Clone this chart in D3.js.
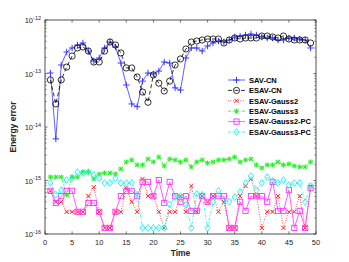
<!DOCTYPE html>
<html lang="en">
  <head>
    <meta charset="UTF-8" />
    <title>Energy error</title>
    <script src="https://cdnjs.cloudflare.com/ajax/libs/d3/7.8.5/d3.min.js"></script>
    <style>
      body {
        margin: 0;
        background: #fff;
        font-family: "Liberation Sans", Arial, sans-serif;
      }
      .tick-label {
        font-size: 7.5px;
        fill: #262626;
      }
      .axis-title {
        font-size: 8.5px;
        font-weight: bold;
        fill: #262626;
      }
      .legend-text {
        font-size: 7.5px;
        font-weight: bold;
        fill: #000;
      }
    </style>
  </head>
  <body>
    <div id="chart"></div>
    <script>
      // time steps 1..49
      const time = d3.range(1, 50);

      const savCN = [
        1.02e-13, 6.0e-15, 1.44e-13, 2.52e-13, 3.0e-13, 3.41e-13, 3.72e-13, 2.63e-13, 1.71e-13, 1.95e-13,
        3.0e-13, 3.88e-13, 3.13e-13, 1.57e-13, 6.1e-14, 2.7e-14, 2.4e-14, 7.2e-14, 1.02e-13, 9.8e-14,
        1.11e-13, 1.64e-13, 1.57e-13, 5.4e-14, 4.9e-14, 1.95e-13, 3.0e-13, 3.0e-13, 2.63e-13, 3.27e-13,
        3.72e-13, 4.05e-13, 3.88e-13, 4.23e-13, 4.81e-13, 5.02e-13, 5.25e-13, 5.47e-13, 5.25e-13, 4.81e-13,
        4.61e-13, 4.61e-13, 4.23e-13, 4.23e-13, 4.61e-13, 4.61e-13, 4.42e-13, 4.23e-13, 3.0e-13
      ];
      const esavCN = [
        7.6e-14, 2.7e-14, 7.6e-14, 1.32e-13, 2.12e-13, 3.0e-13, 3.13e-13, 2.63e-13, 1.64e-13, 1.64e-13,
        2.63e-13, 3.88e-13, 3.41e-13, 2.42e-13, 1.27e-13, 1.27e-13, 8.6e-14, 4.5e-14, 2.9e-14, 9.4e-14,
        6.6e-14, 4.7e-14, 7.2e-14, 1.44e-13, 1.87e-13, 2.87e-13, 3.88e-13, 4.05e-13, 4.23e-13, 4.42e-13,
        4.42e-13, 4.42e-13, 3.72e-13, 4.23e-13, 4.61e-13, 4.42e-13, 4.61e-13, 4.61e-13, 4.61e-13, 5.02e-13,
        5.02e-13, 4.81e-13, 4.61e-13, 5.02e-13, 4.42e-13, 4.23e-13, 4.23e-13, 4.23e-13, 3.72e-13
      ];
      const esavGauss2 = [
        6.4e-16, 4.0e-16, 4.0e-16, 2.6e-16, 2.6e-16, 2.6e-16, 2.6e-16, 5.1e-16, 7.5e-16, 2.6e-16,
        1.3e-16, 1.3e-16, 2.6e-16, 2.6e-16, 7.2e-16, 4.0e-16, 2.6e-16, 1.07e-15, 5.1e-16, 5.1e-16,
        2.6e-16, 1.3e-16, 2.6e-16, 2.6e-16, 5.1e-16, 2.6e-16, 7.9e-16, 2.6e-16, 5.1e-16, 4.0e-16,
        5.1e-16, 2.6e-16, 4.0e-16, 1.3e-16, 1.3e-16, 5.1e-16, 7.9e-16, 1.07e-15, 5.1e-16, 1.3e-16,
        2.6e-16, 2.6e-16, 5.1e-16, 1.3e-16, 2.6e-16, 2.6e-16, 5.1e-16, 1.3e-16, 7.9e-16
      ];
      const esavGauss3 = [
        1.16e-15, 1.16e-15, 1.16e-15, 5.4e-16, 1.16e-15, 1.16e-15, 1.44e-15, 1.44e-15, 1.07e-15, 1.32e-15,
        1.38e-15, 1.38e-15, 1.32e-15, 1.64e-15, 2.22e-15, 2.42e-15, 1.95e-15, 1.95e-15, 2.52e-15, 2.22e-15,
        2.75e-15, 1.87e-15, 2.52e-15, 2.42e-15, 2.22e-15, 2.42e-15, 1.79e-15, 2.22e-15, 2.42e-15, 2.12e-15,
        2.22e-15, 2.42e-15, 2.42e-15, 2.52e-15, 2.75e-15, 2.22e-15, 2.42e-15, 2.52e-15, 1.95e-15, 1.71e-15,
        1.95e-15, 1.95e-15, 2.22e-15, 1.95e-15, 2.03e-15, 1.87e-15, 1.79e-15, 1.79e-15, 2.22e-15
      ];
      const esavGauss2PC = [
        6.4e-16, 3.8e-16, 5.1e-16, 6.4e-16, 6.4e-16, 2.6e-16, 2.6e-16, 3.8e-16, 3.8e-16, 2.6e-16,
        1.3e-16, 1.3e-16, 2.6e-16, 5.1e-16, 6.4e-16, 6.4e-16, 5.1e-16, 9.4e-16, 9.4e-16, 5.1e-16,
        1.02e-15, 3.8e-16, 9.4e-16, 5.1e-16, 4.0e-16, 5.1e-16, 2.7e-16, 2.7e-16, 5.1e-16, 4.0e-16,
        5.1e-16, 5.1e-16, 5.1e-16, 1.3e-16, 1.3e-16, 4.0e-16, 2.7e-16, 5.1e-16, 5.1e-16, 5.1e-16,
        4.0e-16, 9.4e-16, 2.7e-16, 2.7e-16, 6.6e-16, 1.3e-16, 2.7e-16, 1.3e-16, 7.2e-16
      ];
      const esavGauss3PC = [
        9.0e-16, 5.4e-16, 6.6e-16, 1.02e-15, 1.11e-15, 1.44e-15, 1.38e-15, 1.44e-15, 1.27e-15, 1.11e-15,
        9.0e-16, 9.0e-16, 1.11e-15, 9.0e-16, 9.0e-16, 9.0e-16, 5.4e-16, 1.3e-16, 1.3e-16, 1.3e-16,
        1.3e-16, 1.3e-16, 3.6e-16, 4.9e-16, 5.1e-16, 3.5e-16, 1.3e-16, 5.6e-16, 5.4e-16, 1.3e-16,
        4.0e-16, 6.4e-16, 4.3e-16, 4.0e-16, 4.9e-16, 6.1e-16, 9.0e-16, 1.21e-15, 6.6e-16, 9.0e-16,
        1.16e-15, 9.8e-16, 9.0e-16, 1.02e-15, 8.2e-16, 9.0e-16, 9.0e-16, 4.0e-16, 7.9e-16
      ];

      const xTicks = [0, 5, 10, 15, 20, 25, 30, 35, 40, 45, 50];
      const yExponents = [-12, -13, -14, -15, -16];

      const series = [
        { name: "SAV-CN", values: savCN, color: "#3a3aff", dash: null, marker: "plus" },
        { name: "ESAV-CN", values: esavCN, color: "#000", dash: "4,2.5", marker: "circle" },
        { name: "ESAV-Gauss2", values: esavGauss2, color: "#ff2020", dash: "1,1.5", marker: "cross" },
        { name: "ESAV-Gauss3", values: esavGauss3, color: "#22ee22", dash: "3,1.5,1,1.5", marker: "star" },
        { name: "ESAV-Gauss2-PC", values: esavGauss2PC, color: "#ff33ff", dash: null, marker: "square" },
        { name: "ESAV-Gauss3-PC", values: esavGauss3PC, color: "#22eeee", dash: "3,1.5,1,1.5", marker: "diamond" }
      ];

      const width = 349;
      const height = 262;
      const margin = { left: 45, right: 33, top: 20, bottom: 28 };

      const svg = d3
        .select("#chart")
        .append("svg")
        .attr("width", width)
        .attr("height", height);

      const x = d3
        .scaleLinear()
        .domain([0, 50])
        .range([margin.left, width - margin.right]);
      const y = d3
        .scaleLog()
        .domain([1e-16, 1e-12])
        .range([height - margin.bottom, margin.top]);

      const axisColor = "#262626";
      const x0 = x.range()[0], x1 = x.range()[1];
      const y0 = y.range()[0], y1 = y.range()[1];

      // clip for data
      svg
        .append("defs")
        .append("clipPath")
        .attr("id", "plot-clip")
        .append("rect")
        .attr("x", x0)
        .attr("y", y1)
        .attr("width", x1 - x0)
        .attr("height", y0 - y1);

      const plot = svg.append("g").attr("clip-path", "url(#plot-clip)");

      const line = d3
        .line()
        .defined((d) => d != null)
        .x((d, i) => x(time[i]))
        .y((d) => y(d));

      function drawMarker(g, type, cx, cy, color) {
        const s = 2.6;
        if (type === "plus") {
          g.append("path")
            .attr("d", `M${cx - s - 0.6},${cy}H${cx + s + 0.6}M${cx},${cy - s - 0.6}V${cy + s + 0.6}`)
            .attr("stroke", color).attr("stroke-width", 1).attr("fill", "none");
        } else if (type === "circle") {
          g.append("circle").attr("cx", cx).attr("cy", cy).attr("r", 3.1)
            .attr("stroke", color).attr("stroke-width", 0.8).attr("fill", "none");
        } else if (type === "cross") {
          const c = 2.1;
          g.append("path")
            .attr("d", `M${cx - c},${cy - c}L${cx + c},${cy + c}M${cx - c},${cy + c}L${cx + c},${cy - c}`)
            .attr("stroke", color).attr("stroke-width", 1).attr("fill", "none");
        } else if (type === "star") {
          const c = 2.1;
          g.append("path")
            .attr("d", `M${cx - s},${cy}H${cx + s}M${cx},${cy - s}V${cy + s}M${cx - c},${cy - c}L${cx + c},${cy + c}M${cx - c},${cy + c}L${cx + c},${cy - c}`)
            .attr("stroke", color).attr("stroke-width", 1).attr("fill", "none");
        } else if (type === "square") {
          g.append("rect").attr("x", cx - 2.6).attr("y", cy - 2.6).attr("width", 5.2).attr("height", 5.2)
            .attr("stroke", color).attr("stroke-width", 0.9).attr("fill", "none");
        } else if (type === "diamond") {
          const d = 3.4;
          g.append("path")
            .attr("d", `M${cx},${cy - d}L${cx + 2.6},${cy}L${cx},${cy + d}L${cx - 2.6},${cy}Z`)
            .attr("stroke", color).attr("stroke-width", 0.9).attr("fill", "none");
        }
      }

      series.forEach((s) => {
        plot
          .append("path")
          .datum(s.values)
          .attr("d", line)
          .attr("fill", "none")
          .attr("stroke", s.color)
          .attr("stroke-width", 0.8)
          .attr("stroke-dasharray", s.dash);
        const mg = plot.append("g");
        s.values.forEach((v, i) => {
          if (v != null) drawMarker(mg, s.marker, x(time[i]), y(v), s.color);
        });
      });

      // frame
      svg
        .append("rect")
        .attr("x", x0)
        .attr("y", y1)
        .attr("width", x1 - x0)
        .attr("height", y0 - y1)
        .attr("fill", "none")
        .attr("stroke", axisColor)
        .attr("stroke-width", 0.8);

      const ticks = svg.append("g").attr("stroke", axisColor).attr("stroke-width", 0.6);

      // x ticks
      xTicks.forEach((t) => {
        const px = x(t);
        ticks.append("line").attr("x1", px).attr("x2", px).attr("y1", y0).attr("y2", y0 - 2.7);
        ticks.append("line").attr("x1", px).attr("x2", px).attr("y1", y1).attr("y2", y1 + 2.7);
        svg
          .append("text")
          .attr("class", "tick-label")
          .attr("x", px)
          .attr("y", y0 + 10.5)
          .attr("text-anchor", "middle")
          .text(t);
      });

      // y ticks, major and minor
      yExponents.forEach((e) => {
        const py = y(Math.pow(10, e));
        ticks.append("line").attr("x1", x0).attr("x2", x0 + 2.7).attr("y1", py).attr("y2", py);
        ticks.append("line").attr("x1", x1).attr("x2", x1 - 2.7).attr("y1", py).attr("y2", py);
        const label = svg
          .append("text")
          .attr("class", "tick-label")
          .attr("x", x0 - 4)
          .attr("y", py + 3)
          .attr("text-anchor", "end");
        label.append("tspan").text("10");
        label
          .append("tspan")
          .attr("dy", -3.5)
          .attr("font-size", "5.5px")
          .text("-" + Math.abs(e));
        if (e > -12 || e === -12) {
          // nothing
        }
        if (e < -12) {
          for (let k = 2; k <= 9; k++) {
            const my = y(k * Math.pow(10, e));
            ticks.append("line").attr("x1", x0).attr("x2", x0 + 1.5).attr("y1", my).attr("y2", my);
            ticks.append("line").attr("x1", x1).attr("x2", x1 - 1.5).attr("y1", my).attr("y2", my);
          }
        }
      });

      // axis titles
      svg
        .append("text")
        .attr("class", "axis-title")
        .attr("x", (x0 + x1) / 2)
        .attr("y", y0 + 22)
        .attr("text-anchor", "middle")
        .text("Time");
      svg
        .append("text")
        .attr("class", "axis-title")
        .attr("transform", `translate(16,${(y0 + y1) / 2}) rotate(-90)`)
        .attr("text-anchor", "middle")
        .text("Energy error");

      // legend
      const legend = svg.append("g").attr("transform", "translate(227,80)");
      legend
        .append("rect")
        .attr("x", -2)
        .attr("y", -6)
        .attr("width", 86)
        .attr("height", 63)
        .attr("fill", "#fff");
      series.forEach((s, i) => {
        const ly = i * 10.4;
        legend
          .append("line")
          .attr("x1", 1)
          .attr("x2", 18)
          .attr("y1", ly)
          .attr("y2", ly)
          .attr("stroke", s.color)
          .attr("stroke-width", 0.8)
          .attr("stroke-dasharray", s.dash);
        drawMarker(legend, s.marker, 9.5, ly, s.color);
        legend
          .append("text")
          .attr("class", "legend-text")
          .attr("x", 22)
          .attr("y", ly + 2.7)
          .text(s.name);
      });
    </script>
  </body>
</html>
